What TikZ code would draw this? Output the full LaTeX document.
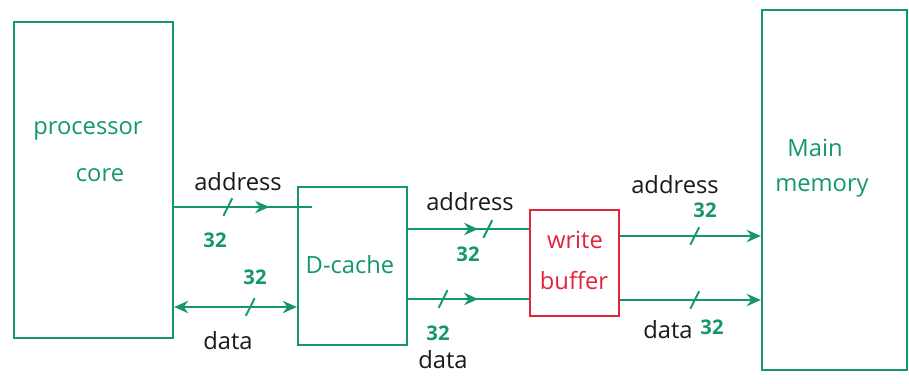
\documentclass[tikz,border=0pt]{standalone}
\usepackage{fontspec}
\setmainfont{Open Sans}
\usetikzlibrary{arrows.meta,decorations.markings}
\definecolor{ink}{RGB}{20,150,110}
\definecolor{wbred}{RGB}{225,35,60}
\definecolor{pen}{RGB}{25,25,25}

\begin{document}
\begin{tikzpicture}[x=0.02cm,y=-0.02cm,
  box/.style={draw=ink,line width=1.3pt,rectangle,inner sep=0pt},
  bus/.style={draw=ink,line width=1.3pt},
  lbl/.style={text=pen,font=\fontsize{13.5}{15}\selectfont,inner sep=0pt},
  boxtxt/.style={text=ink,font=\fontsize{13.5}{15}\selectfont,inner sep=0pt},
  bits/.style={text=ink,font=\fontsize{11.5}{12}\selectfont\bfseries,inner sep=0pt},
  tickat/.style={postaction={decorate,decoration={markings,
      mark=at position #1 with {\draw[-,ink,line width=1.1pt] (-2.5pt,-5pt) -- (2.5pt,5pt);}}}},
  arrowat/.style={postaction={decorate,decoration={markings,
      mark=at position #1 with {\arrow[ink]{Stealth[length=8pt,width=7pt]}}}}},
  tip/.style={-{Stealth[length=8pt,width=7pt]}},
  ]
  \useasboundingbox (0,0) rectangle (909,383);

  % blocks
  \node[box,minimum width=3.18cm,minimum height=6.32cm] (proc) at (93.5,180) {};
  \node[box,minimum width=2.18cm,minimum height=3.16cm] (dcache) at (352.5,266) {};
  \node[box,draw=wbred,minimum width=1.78cm,minimum height=2.12cm] (wbuf) at (574.5,263) {};
  \node[box,minimum width=2.9cm,minimum height=7.2cm] (mem) at (834.5,190) {};

  % block titles
  \node[boxtxt] (proct1) at (88,131) {processor};
  \node[boxtxt] (proct2) at (100,175) {core};
  \node[boxtxt] (dct) at (350,265) {D-cache};
  \node[boxtxt,text=wbred] (wbt1) at (575,240) {write};
  \node[boxtxt,text=wbred] (wbt2) at (574,281) {buffer};
  \node[boxtxt] (memt1) at (815,148) {Main};
  \node[boxtxt] (memt2) at (822,188) {memory};

  % processor <-> D-cache
  \coordinate (dcin) at (312,207);
  \draw[bus,tickat=0.39,arrowat=0.69] (proc.east |- dcin) -- (dcin);
  \draw[bus,tickat=0.62,{Stealth[length=8pt,width=7pt]}-{Stealth[length=8pt,width=7pt]}]
    (proc.east |- 0,307) -- (dcache.west |- 0,307);
  \node[lbl] (l1) at (238,182) {address};
  \node[bits] (b1) at (215,240) {32};
  \node[bits] (b2) at (255,277) {32};
  \node[lbl] (l2) at (228,341) {data};

  % D-cache -> write buffer
  \draw[bus,arrowat=0.58,tickat=0.66] (dcache.east |- 0,229) -- (wbuf.west |- 0,229);
  \draw[bus,tickat=0.29,arrowat=0.58] (dcache.east |- 0,299) -- (wbuf.west |- 0,299);
  \node[lbl] (l3) at (470,202) {address};
  \node[bits] (b3) at (468,254) {32};
  \node[bits] (b4) at (438,333) {32};
  \node[lbl] (l4) at (443,360) {data};

  % write buffer -> main memory
  \draw[bus,tip,tickat=0.53] (wbuf.east |- 0,236) -- (mem.west |- 0,236);
  \draw[bus,tip,tickat=0.53] (wbuf.east |- 0,300) -- (mem.west |- 0,300);
  \node[lbl] (l5) at (675,185) {address};
  \node[bits] (b5) at (705,210) {32};
  \node[lbl] (l6) at (668,330) {data};
  \node[bits] (b6) at (712,327) {32};
\end{tikzpicture}
\end{document}
